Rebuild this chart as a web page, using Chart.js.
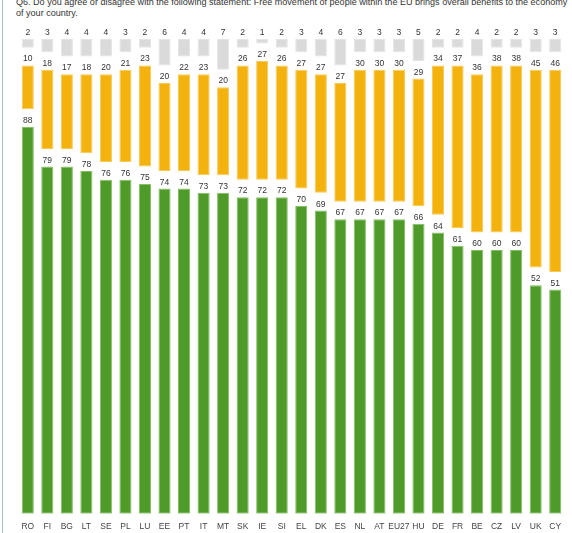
<!DOCTYPE html>
<html>
<head>
<meta charset="utf-8">
<script src="https://cdn.jsdelivr.net/npm/chart.js@4/dist/chart.umd.min.js"></script>
<style>
    body { margin: 0; width: 572px; height: 533px; overflow: hidden; background: #fff; position: relative; }
    #frame { position: absolute; left: 2px; top: 0; width: 1px; height: 533px; background: #a9c0d8; }
    #title { position: absolute; left: 16px; top: -3px; font: 9.5px "Liberation Sans", Arial, sans-serif;
             line-height: 10.5px; color: #333; white-space: nowrap; transform-origin: 0 0; }
    #chart { position: absolute; left: 0; top: 0; }
</style>
</head>
<body>
<div id="frame"></div>
<div id="title"><span id="line1">Q6. Do you agree or disagree with the following statement: Free movement of people within the EU brings overall benefits to the economy</span><br>of your country.</div>
<canvas id="chart" width="572" height="544"></canvas>
<script>
const countries = ['RO', 'FI', 'BG', 'LT', 'SE', 'PL', 'LU', 'EE', 'PT', 'IT', 'MT', 'SK', 'IE', 'SI', 'EL', 'DK', 'ES', 'NL', 'AT', 'EU27', 'HU', 'DE', 'FR', 'BE', 'CZ', 'LV', 'UK', 'CY'];
const agree    = [88, 79, 79, 78, 76, 76, 75, 74, 74, 73, 73, 72, 72, 72, 70, 69, 67, 67, 67, 67, 66, 64, 61, 60, 60, 60, 52, 51];
const disagree = [10, 18, 17, 18, 20, 21, 23, 20, 22, 23, 20, 26, 27, 26, 27, 27, 27, 30, 30, 30, 29, 34, 37, 36, 38, 38, 45, 46];
const dontKnow = [2, 3, 4, 4, 4, 3, 2, 6, 4, 4, 7, 2, 1, 2, 3, 4, 6, 3, 3, 3, 5, 2, 2, 4, 2, 2, 3, 3];

// gap between the three pieces of each column, in value units
const GAP = 4;

// squeeze the title so the first line fits like in the picture
var line1 = document.getElementById('line1');
var title = document.getElementById('title');
title.style.transform = 'scaleX(' + (551 / line1.offsetWidth) + ')';

const disagreeBars = agree.map((a, i) => [a + GAP, a + GAP + disagree[i]]);
const dontKnowBars = agree.map((a, i) => [a + disagree[i] + 2 * GAP, a + disagree[i] + 2 * GAP + dontKnow[i]]);

const valueLabels = {
    id: 'valueLabels',
    afterDatasetsDraw(chart) {
        const ctx = chart.ctx;
        const sources = [agree, disagree, dontKnow];
        ctx.save();
        ctx.font = '8.5px "Liberation Sans", Arial, sans-serif';
        ctx.fillStyle = '#333';
        ctx.textAlign = 'center';
        ctx.textBaseline = 'bottom';
        chart.data.datasets.forEach((ds, di) => {
            chart.getDatasetMeta(di).data.forEach((bar, i) => {
                ctx.fillText(sources[di][i], bar.x, bar.y - 2);
            });
        });
        ctx.restore();
    }
};

new Chart(document.getElementById('chart'), {
    type: 'bar',
    data: {
        labels: countries,
        datasets: [{
            label: 'Agree',
            data: agree,
            backgroundColor: '#4e9b2a',
            borderColor: '#86bf62',
            borderWidth: 1
        }, {
            label: 'Disagree',
            data: disagreeBars,
            backgroundColor: '#f4b20f',
            borderColor: '#f7ca55',
            borderWidth: 1
        }, {
            label: "Don't know",
            data: dontKnowBars,
            backgroundColor: '#dadada',
            borderColor: '#e4e4e4',
            borderWidth: 1
        }]
    },
    options: {
        responsive: false,
        animation: false,
        grouped: false,
        borderSkipped: false,
        categoryPercentage: 1,
        barPercentage: 0.62,
        layout: { padding: { left: 18, right: 7, top: 39, bottom: 4 } },
        plugins: {
            legend: { display: false },
            tooltip: { enabled: false }
        },
        scales: {
            x: {
                grid: { display: false, drawTicks: false },
                border: { display: false },
                ticks: {
                    padding: 8,
                    autoSkip: false,
                    maxRotation: 0,
                    minRotation: 0,
                    color: '#444',
                    font: { family: '"Liberation Sans", Arial, sans-serif', size: 8.5 }
                }
            },
            y: {
                display: false,
                min: 0,
                max: 100 + 2 * GAP
            }
        }
    },
    plugins: [valueLabels]
});
</script>
</body>
</html>
